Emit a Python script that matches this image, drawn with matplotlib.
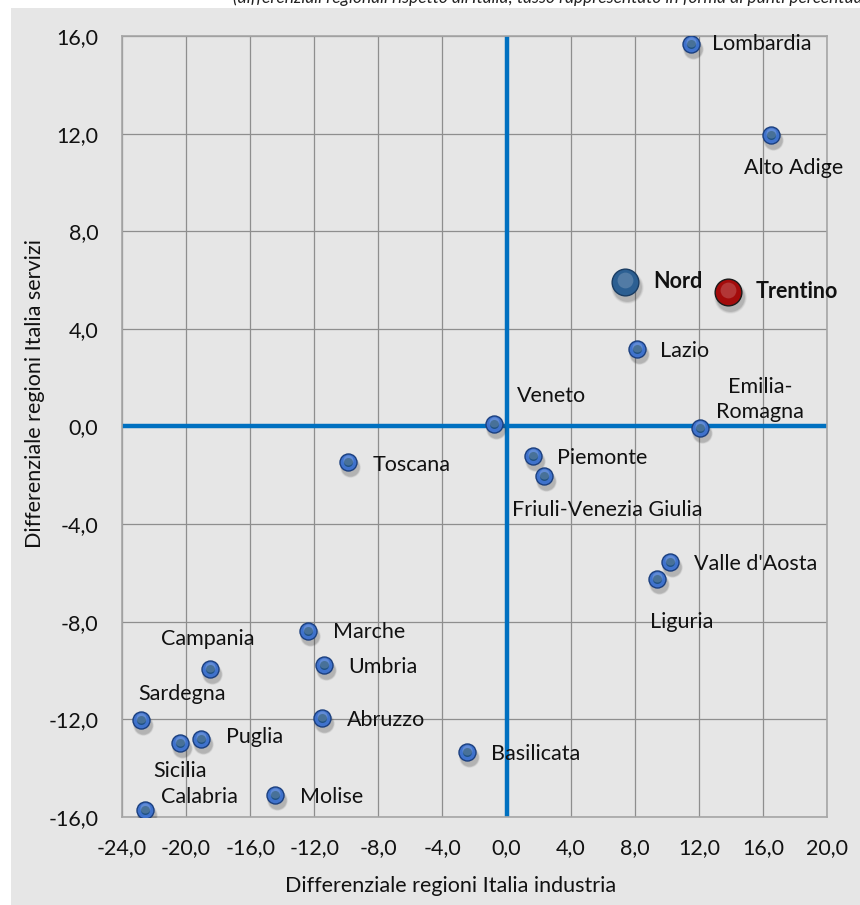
import matplotlib.pyplot as plt
import matplotlib.transforms as mtransforms
from matplotlib.patches import Rectangle
import numpy as np

plt.rcParams['font.family'] = ['Lato', 'DejaVu Sans']

# data: differenziale industria (x) e servizi (y)
regions = ['Lombardia', 'Alto Adige', 'Lazio', 'Veneto', 'Emilia-\nRomagna',
           'Piemonte', 'Friuli-Venezia Giulia', 'Toscana', "Valle d'Aosta",
           'Liguria', 'Marche', 'Umbria', 'Campania', 'Abruzzo', 'Sardegna',
           'Puglia', 'Sicilia', 'Basilicata', 'Molise', 'Calabria']
industria = [11.5, 16.5, 8.15, -0.8, 12.1, 1.65, 2.35, -9.9, 10.2,
             9.4, -12.4, -11.4, -18.5, -11.5, -22.8, -19.05, -20.4, -2.45,
             -14.45, -22.55]
servizi = [15.67, 11.94, 3.17, 0.1, -0.07, -1.21, -2.03, -1.46, -5.56,
           -6.25, -8.39, -9.78, -9.94, -11.95, -12.03, -12.81, -12.98, -13.34,
           -15.1, -15.72]

macro = ['Nord', 'Trentino']
macro_industria = [7.4, 13.8]
macro_servizi = [5.92, 5.5]
macro_colors = ['#2C5F92', '#A30B0B']

# label offsets in pixels (dx, dy) and alignment
label_pos = {
    'Lombardia': (21, 0, 'left'),
    'Alto Adige': (-27, -33, 'left'),
    'Lazio': (23, -2, 'left'),
    'Veneto': (23, 28, 'left'),
    'Emilia-\nRomagna': (60, 29, 'center'),
    'Piemonte': (24, -2, 'left'),
    'Friuli-Venezia Giulia': (-32, -34, 'left'),
    'Toscana': (25, -3, 'left'),
    "Valle d'Aosta": (24, -2, 'left'),
    'Liguria': (25, -43, 'center'),
    'Marche': (25, -1, 'left'),
    'Umbria': (24, -2, 'left'),
    'Campania': (-2, 30, 'center'),
    'Abruzzo': (25, -2, 'left'),
    'Sardegna': (41, 26, 'center'),
    'Puglia': (25, 2, 'left'),
    'Sicilia': (0, -28, 'center'),
    'Basilicata': (24, -2, 'left'),
    'Molise': (25, -2, 'left'),
    'Calabria': (16, 13, 'left'),
}

ticks_x = np.arange(-24, 21, 4)
ticks_y = np.arange(-16, 17, 4)

FS = 15.5


def fmt(v):
    return f"{v:.1f}".replace('.', ',')


fig = plt.figure(figsize=(8.6, 9.05), dpi=100)
fig.patch.set_facecolor('white')
W, H = 860, 905
bg = Rectangle((11 / W, 0), 1, (H - 8) / H, transform=fig.transFigure,
               facecolor='#E6E6E6', edgecolor='none', zorder=-10)
fig.add_artist(bg)
fig.text(233 / W, 1 - 3 / H,
         "(differenziali regionali rispetto all'Italia; tasso rappresentato in forma di punti percentuali)",
         fontsize=12.5, style='italic', ha='left', va='baseline', color='#222222')

ax = fig.add_axes([122 / W, (H - 817) / H, 705 / W, 781 / H])
ax.set_zorder(1)
ax.set_facecolor('#E6E6E6')
ax.set_xlim(-24, 20)
ax.set_ylim(-16, 16)
ax.set_xticks(ticks_x)
ax.set_yticks(ticks_y)
ax.set_xticklabels([fmt(v) for v in ticks_x])
ax.set_yticklabels([fmt(v) for v in ticks_y])
ax.tick_params(length=0, labelsize=FS, colors='#111111')
ax.tick_params(axis='x', pad=15)
ax.tick_params(axis='y', pad=17)
ax.grid(True, color='#8E8E8E', linewidth=0.9)
ax.set_axisbelow(True)
for s in ax.spines.values():
    s.set_color('#A6A6A6')
    s.set_linewidth(1.2)

ax.axhline(0, color='#0070C0', linewidth=3.2, zorder=2)
ax.axvline(0, color='#0070C0', linewidth=3.2, zorder=2)

ax.set_xlabel('Differenziale regioni Italia industria', fontsize=FS, color='#111111')
ax.set_ylabel('Differenziale regioni Italia servizi', fontsize=FS, color='#111111')
ax.xaxis.set_label_coords((451 - 122) / 705, (817 - 876) / 781)
ax.yaxis.set_label_coords((45 - 122) / 705, (817 - 394) / 781)


def bubbles(xs, ys, size, face, edge, inner):
    # soft shadow
    for k, a in [(6, 0.06), (4, 0.10), (2, 0.14)]:
        tr = mtransforms.offset_copy(ax.transData, fig=fig, x=2, y=-5, units='dots')
        ax.scatter(xs, ys, s=size * (1 + k * 0.08), color='#303030', alpha=a,
                   linewidths=0, transform=tr, zorder=3)
    ax.scatter(xs, ys, s=size, color=face, edgecolors=edge, linewidths=1.0, zorder=4)
    if inner is not None:
        ax.scatter(xs, ys, s=size * 0.28, color=inner, linewidths=0, zorder=5)
    # highlight
    tr = mtransforms.offset_copy(ax.transData, fig=fig, x=0, y=2.5, units='dots')
    ax.scatter(xs, ys, s=size * 0.35, color='white', alpha=0.18, linewidths=0,
               transform=tr, zorder=5)


bubbles(industria, servizi, 150, '#3F72CC', '#1B3F7E', '#205282')
for i in range(len(macro)):
    bubbles([macro_industria[i]], [macro_servizi[i]], 370, macro_colors[i],
            '#1a1a1a' if i == 1 else '#1A3D63', None)

for name, x, y in zip(regions, industria, servizi):
    dx, dy, ha = label_pos[name]
    ax.annotate(name, (x, y), xytext=(dx, dy), textcoords='offset pixels',
                ha=ha, va='center', fontsize=FS, color='#111111', zorder=6,
                linespacing=1.3)

for name, x, y in zip(macro, macro_industria, macro_servizi):
    ax.annotate(name, (x, y), xytext=(28, 1), textcoords='offset pixels',
                ha='left', va='center', fontsize=FS, fontweight='bold',
                color='#111111', zorder=6)

fig.savefig('out.png', dpi=100, facecolor=fig.get_facecolor())
